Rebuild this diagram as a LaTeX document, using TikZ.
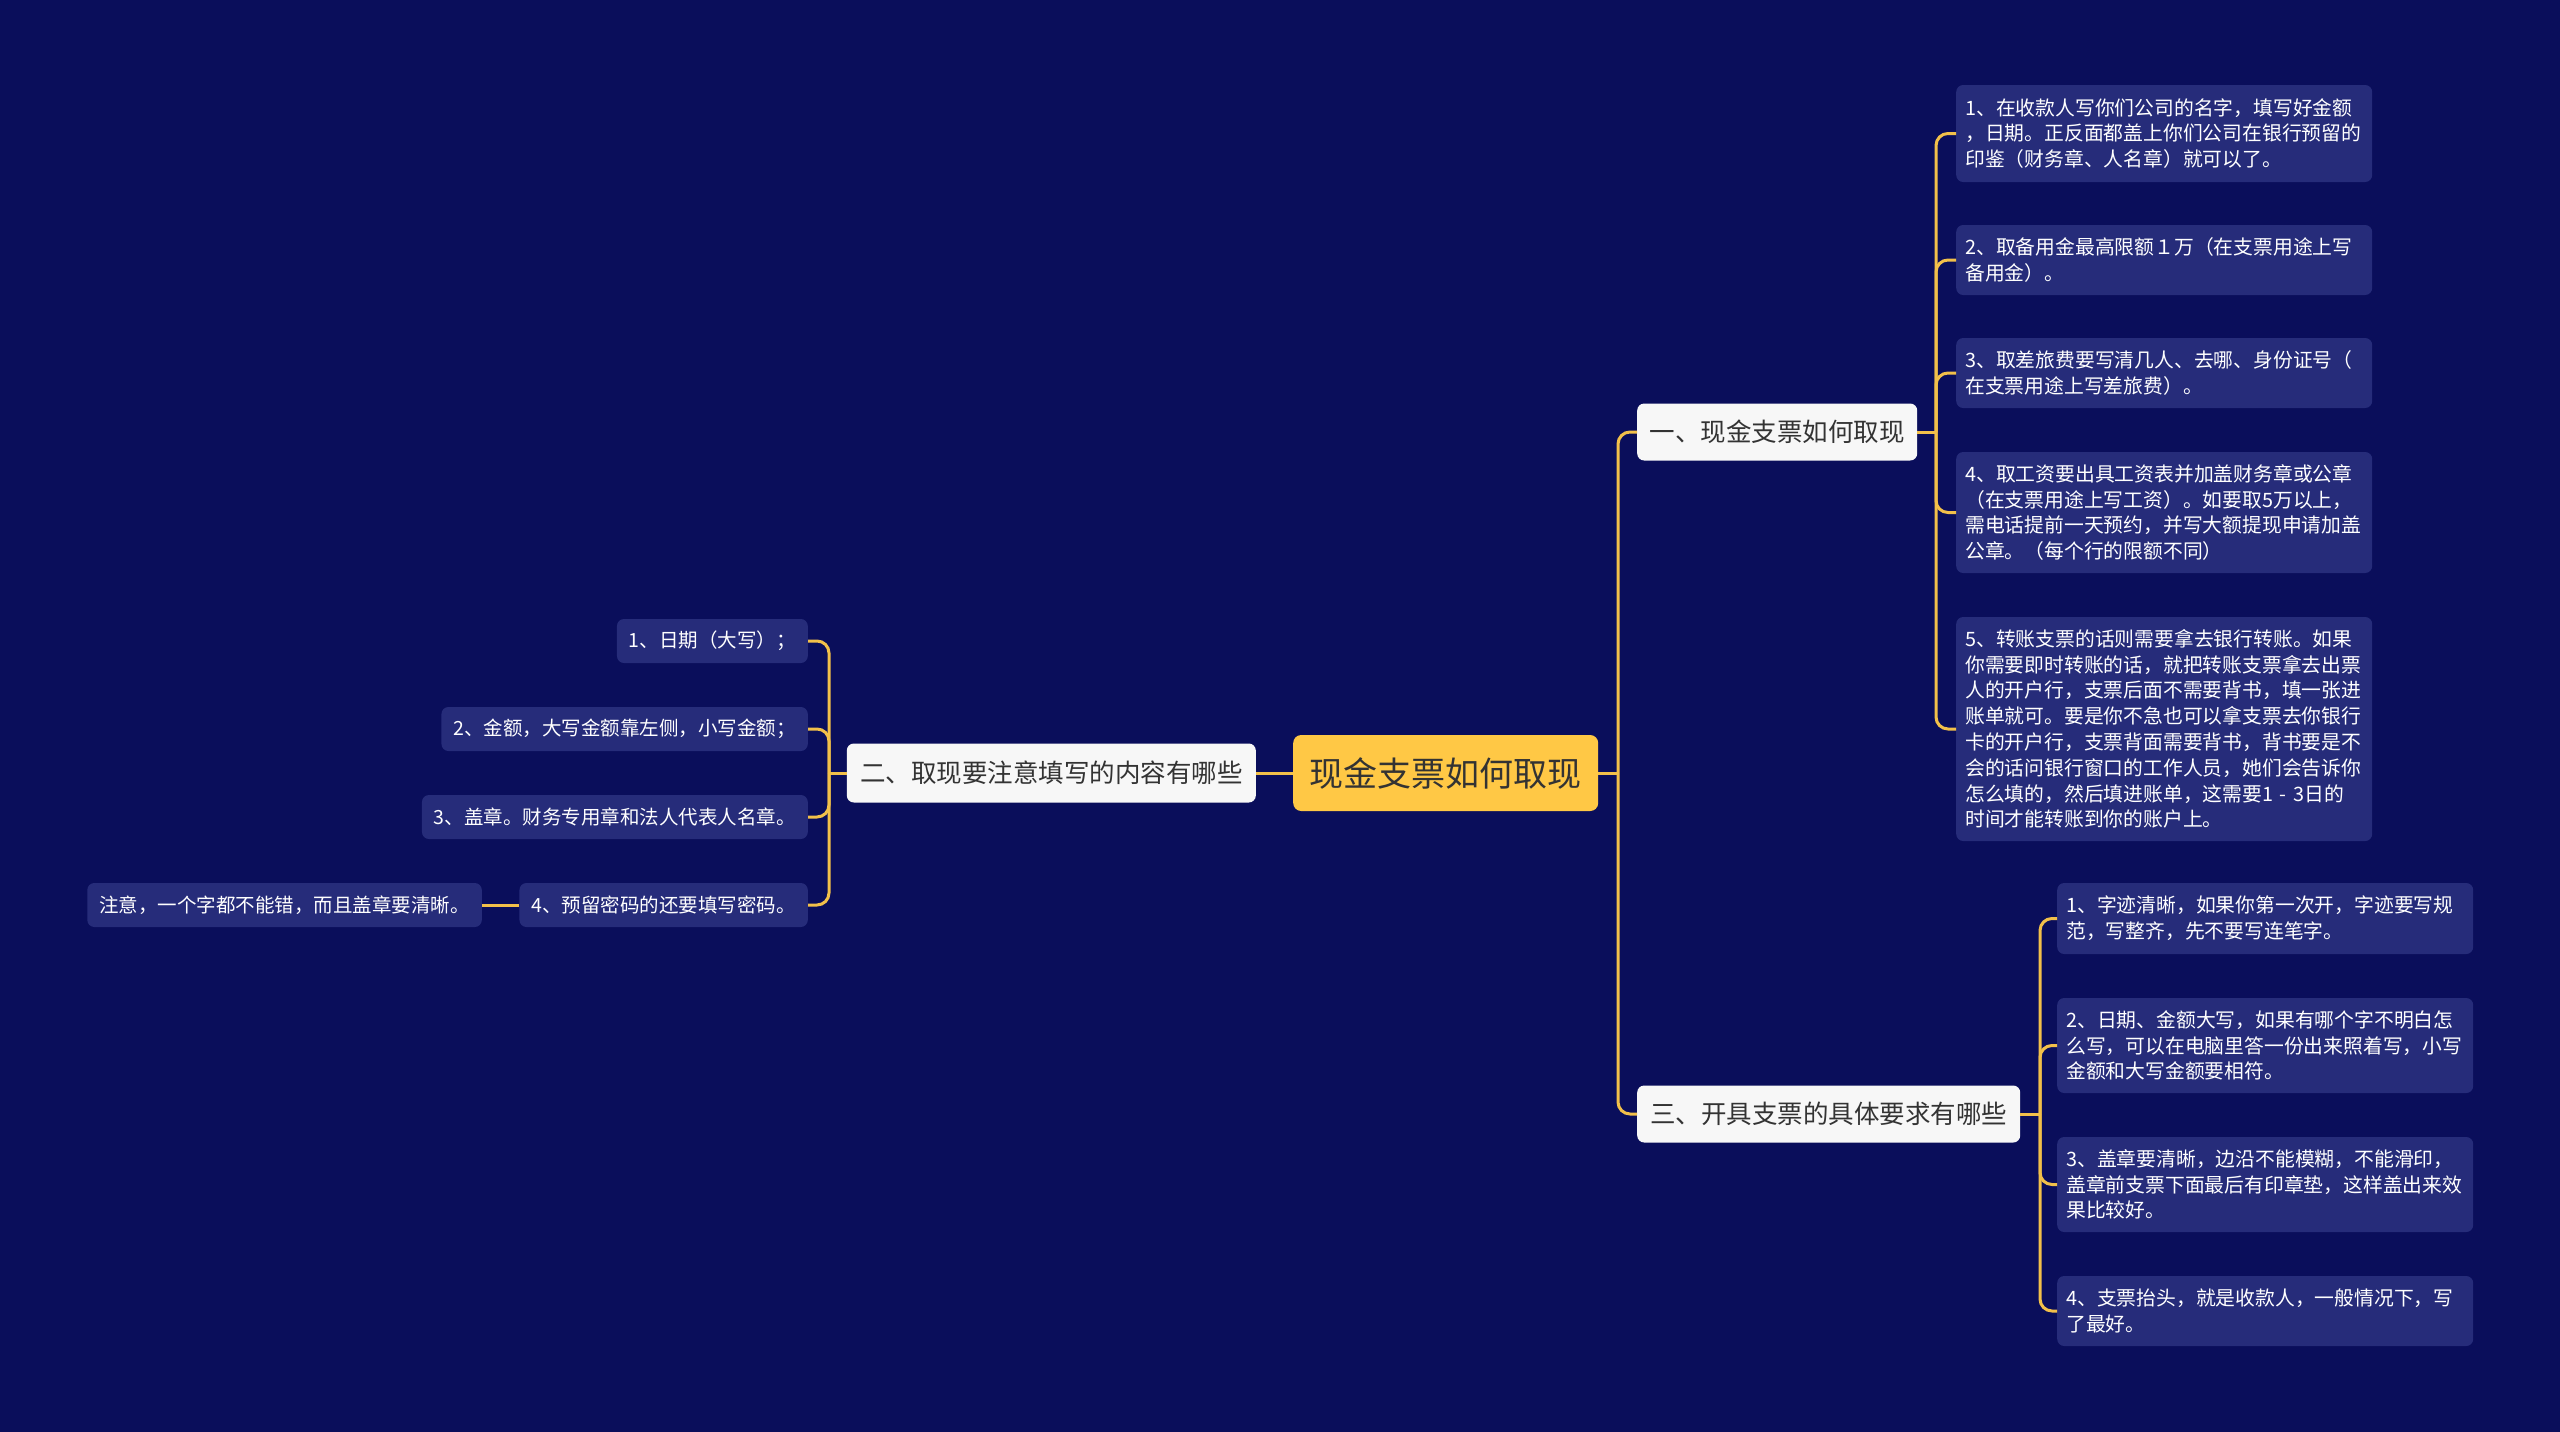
\documentclass[tikz,border=0pt]{standalone}
\usepackage{fontspec}
\setmainfont{Noto Sans CJK SC}
\definecolor{bg}{HTML}{0A0E5B}
\definecolor{boxc}{HTML}{262C7A}
\definecolor{mainy}{HTML}{FFC845}
\definecolor{linec}{HTML}{F2C04A}
\definecolor{whitebox}{HTML}{F7F7F7}
\definecolor{darktext}{HTML}{333333}
\begin{document}
\begin{tikzpicture}[x=1pt,y=-1pt,
  leaf/.style={fill=boxc, rounded corners=7pt, text=white, font=\fontsize{19.8}{25.8}\selectfont, align=left, inner xsep=9pt, inner ysep=2pt, text width=398pt, anchor=west},
  leafl/.style={fill=boxc, rounded corners=7pt, text=white, font=\fontsize{19.5}{25}\selectfont, inner xsep=12pt, inner ysep=2pt, minimum height=44pt, anchor=east},
  topic/.style={fill=whitebox, rounded corners=7pt, text=darktext, font=\fontsize{25.5}{30}\selectfont, inner sep=0pt, minimum height=57pt, anchor=west},
  conn/.style={draw=linec, line width=3pt, rounded corners=12pt}
]
\useasboundingbox[fill=bg] (0,0) rectangle (2560,1432);

% central
\node[fill=mainy, rounded corners=8pt, text=darktext, font=\fontsize{34}{40}\selectfont, inner sep=0pt, minimum width=305pt, minimum height=76pt, anchor=west] (c) at (1293,773) {现金支票如何取现};

% level 1
\node[topic, minimum width=280pt] (n1) at (1637,432) {一、现金支票如何取现};
\node[topic, minimum width=409pt, minimum height=59pt, anchor=east] (n2) at (1256,773) {二、取现要注意填写的内容有哪些};
\node[topic, minimum width=383pt] (n3) at (1637,1114) {三、开具支票的具体要求有哪些};

% children of n1
\node[leaf, minimum height=97pt] (r1) at (1956,133.5) {1、在收款人写你们公司的名字，填写好金额\\，日期。正反面都盖上你们公司在银行预留的\\印鉴（财务章、人名章）就可以了。};
\node[leaf, minimum height=70pt] (r2) at (1956,260) {2、取备用金最高限额１万（在支票用途上写\\备用金）。};
\node[leaf, minimum height=70pt] (r3) at (1956,373) {3、取差旅费要写清几人、去哪、身份证号（\\在支票用途上写差旅费）。};
\node[leaf, minimum height=121pt] (r4) at (1956,512.5) {4、取工资要出具工资表并加盖财务章或公章\\（在支票用途上写工资）。如要取5万以上，\\需电话提前一天预约，并写大额提现申请加盖\\公章。（每个行的限额不同）};
\node[leaf, minimum height=224pt] (r5) at (1956,729) {5、转账支票的话则需要拿去银行转账。如果\\你需要即时转账的话，就把转账支票拿去出票\\人的开户行，支票后面不需要背书，填一张进\\账单就可。要是你不急也可以拿支票去你银行\\卡的开户行，支票背面需要背书，背书要是不\\会的话问银行窗口的工作人员，她们会告诉你\\怎么填的，然后填进账单，这需要1 - 3日的\\时间才能转账到你的账户上。};

% children of n3
\node[leaf, minimum height=71pt] (s1) at (2057,918.5) {1、字迹清晰，如果你第一次开，字迹要写规\\范，写整齐，先不要写连笔字。};
\node[leaf, minimum height=95pt] (s2) at (2057,1045.5) {2、日期、金额大写，如果有哪个字不明白怎\\么写，可以在电脑里答一份出来照着写，小写\\金额和大写金额要相符。};
\node[leaf, minimum height=95pt] (s3) at (2057,1184.5) {3、盖章要清晰，边沿不能模糊，不能滑印，\\盖章前支票下面最后有印章垫，这样盖出来效\\果比较好。};
\node[leaf, minimum height=70pt] (s4) at (2057,1311) {4、支票抬头，就是收款人，一般情况下，写\\了最好。};

% children of n2
\node[leafl] (l1) at (808,641) {1、日期（大写）；};
\node[leafl] (l2) at (808,729) {2、金额，大写金额靠左侧，小写金额；};
\node[leafl] (l3) at (808,817) {3、盖章。财务专用章和法人代表人名章。};
\node[leafl] (l4) at (808,905) {4、预留密码的还要填写密码。};
\node[leafl] (nt) at (482,905) {注意，一个字都不能错，而且盖章要清晰。};

% trunk coordinates
\coordinate (tc) at (1618,773);
\coordinate (t1) at (1936,432);
\coordinate (t3) at (2040,1114);
\coordinate (t2) at (829,773);

% connectors
\draw[conn] (c.west) -- (n2.east);
\draw[conn] (c.east) -- (tc);
\draw[conn] (tc) |- (n1.west);
\draw[conn] (tc) |- (n3.west);

\draw[conn] (n1.east) -- (t1);
\foreach \k in {r1,r2,r3,r4,r5}{\draw[conn] (t1) |- (\k.west);}

\draw[conn] (n3.east) -- (t3);
\foreach \k in {s1,s2,s3,s4}{\draw[conn] (t3) |- (\k.west);}

\draw[conn] (n2.west) -- (t2);
\foreach \k in {l1,l2,l3,l4}{\draw[conn] (t2) |- (\k.east);}
\draw[conn] (l4.west) -- (nt.east);
\end{tikzpicture}
\end{document}
